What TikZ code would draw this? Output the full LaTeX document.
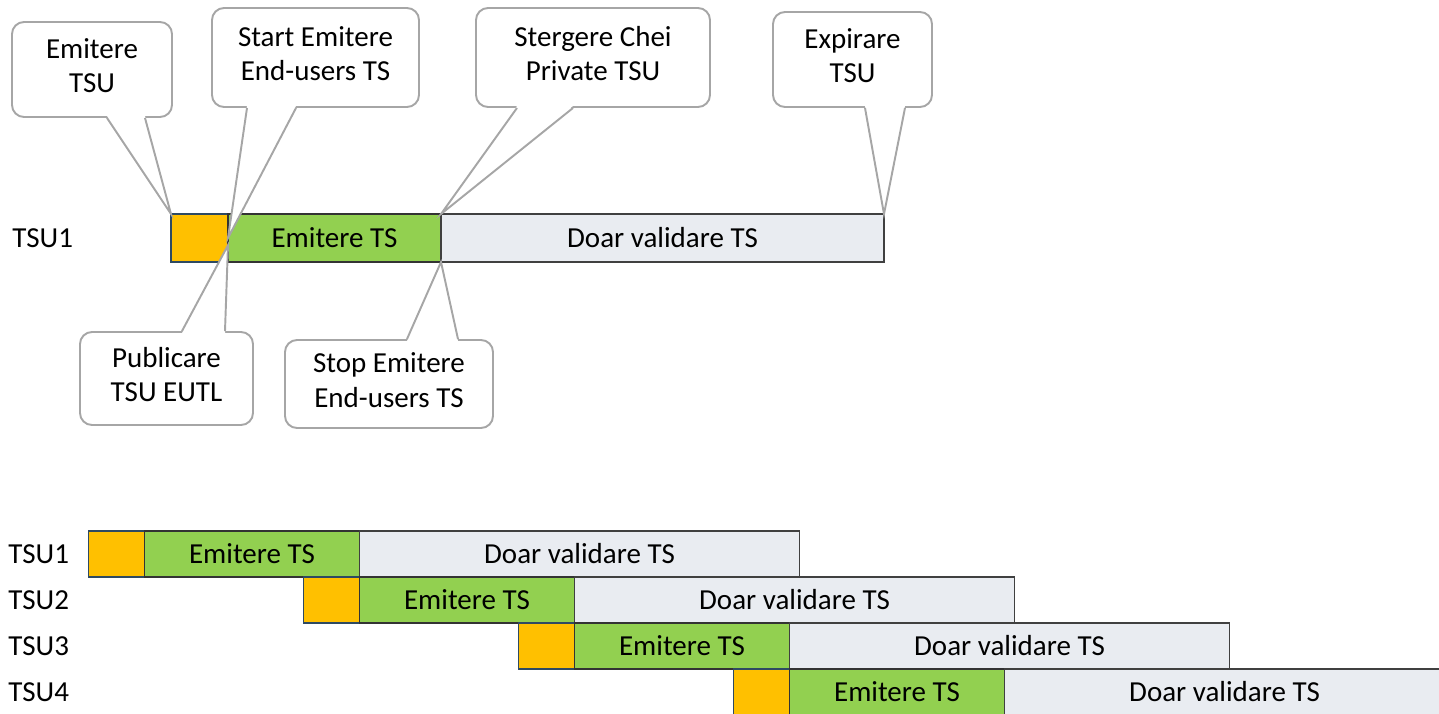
\documentclass[tikz,border=0pt]{standalone}
\usepackage{fontspec}
\setmainfont{Carlito}
\usepackage{tikz}
\usetikzlibrary{calc, positioning}
\definecolor{tsuorange}{HTML}{FFC000}
\definecolor{tsugreen}{HTML}{92D050}
\definecolor{tsugrey}{HTML}{E9ECF1}
\definecolor{tsuedge}{HTML}{2E4A62}
\definecolor{calloutgray}{HTML}{A6A6A6}
\tikzstyle{txt} = [font=\fontsize{16.5}{19.5}\selectfont]
\tikzstyle{callout} = [txt, rectangle, rounded corners=0.24cm, draw=calloutgray, line width=1.1pt, fill=white, align=center, inner sep=0pt, text depth=0.16cm]
\tikzstyle{tail} = [draw=calloutgray, line width=1.1pt, line join=miter]
\tikzstyle{orangebox} = [rectangle, draw=tsuedge, fill=tsuorange, line width=1.1pt, inner sep=0pt, outer sep=0pt, minimum width=1.12cm, minimum height=0.92cm]
\tikzstyle{greenbox} = [txt, rectangle, draw=black!80, fill=tsugreen, line width=0.8pt, inner sep=0pt, outer sep=0pt, minimum width=4.3cm, minimum height=0.92cm]
\tikzstyle{greybox} = [txt, rectangle, draw=black!75, fill=tsugrey, line width=0.8pt, inner sep=0pt, outer sep=0pt, minimum width=8.8cm, minimum height=0.92cm]
\tikzstyle{rowlabel} = [txt, anchor=west, inner sep=0pt]

\begin{document}
\begin{tikzpicture}

\useasboundingbox (0,0) rectangle (28.78,-14.26);

% Top timeline
\node (l1) [rowlabel] at (0.24,-4.76) {TSU1};
\node (o1) [orangebox, anchor=west, minimum width=1.14cm, minimum height=0.96cm] at (3.42,-4.76) {};
\node (g1) [greenbox, right=0pt of o1, minimum width=4.26cm, minimum height=0.96cm] {Emitere TS};
\node (v1) [greybox, right=0pt of g1, minimum width=8.86cm, minimum height=0.96cm] {Doar validare TS};

% Callouts above
\node (c1) [callout, minimum width=3.2cm, minimum height=1.9cm] at (1.84,-1.39) {Emitere\\TSU};
\node (c2) [callout, minimum width=4.14cm, minimum height=1.98cm] at (6.31,-1.15) {Start Emitere\\End-users TS};
\node (c3) [callout, minimum width=4.68cm, minimum height=1.98cm] at (11.86,-1.15) {Stergere Chei\\Private TSU};
\node (c4) [callout, minimum width=3.18cm, minimum height=1.9cm] at (17.05,-1.19) {Expirare\\TSU};

% Callouts below
\node (c5) [callout, minimum width=3.46cm, minimum height=1.86cm] at (3.33,-7.57) {Publicare\\TSU EUTL};
\node (c6) [callout, minimum width=4.16cm, minimum height=1.76cm] at (7.78,-7.68) {Stop Emitere\\End-users TS};

% Callout tails
\fill[white] ($(c1.south)+(0.3,0.04)$) -- (o1.north west) -- ($(c1.south)+(1.06,0.04)$) -- cycle;
\draw[tail] ($(c1.south)+(0.3,0)$) -- (o1.north west) -- ($(c1.south)+(1.06,0)$);

\fill[white] ($(c2.south)+(-1.37,0.04)$) -- (o1.east) -- ($(c2.south)+(-0.39,0.04)$) -- cycle;
\draw[tail] ($(c2.south)+(-1.37,0)$) -- (o1.east) -- ($(c2.south)+(-0.39,0)$);

\fill[white] ($(c3.south)+(-1.52,0.04)$) -- (g1.north east) -- ($(c3.south)+(-0.4,0.04)$) -- cycle;
\draw[tail] ($(c3.south)+(-1.52,0)$) -- (g1.north east) -- ($(c3.south)+(-0.4,0)$);

\fill[white] ($(c4.south)+(0.25,0.04)$) -- (v1.north east) -- ($(c4.south)+(1.05,0.04)$) -- cycle;
\draw[tail] ($(c4.south)+(0.25,0)$) -- (v1.north east) -- ($(c4.south)+(1.05,0)$);

\coordinate (p5) at ($(o1.east)!0.3!(o1.south east)$);
\fill[white] ($(c5.north)+(0.31,-0.04)$) -- (p5) -- ($(c5.north)+(1.17,-0.04)$) -- cycle;
\draw[tail] ($(c5.north)+(0.31,0)$) -- (p5) -- ($(c5.north)+(1.17,0)$);

\fill[white] ($(c6.north)+(0.36,-0.04)$) -- (g1.south east) -- ($(c6.north)+(1.38,-0.04)$) -- cycle;
\draw[tail] ($(c6.north)+(0.36,0)$) -- (g1.south east) -- ($(c6.north)+(1.38,0)$);

% Bottom timeline
\node (r1) [rowlabel] at (0.16,-11.08) {TSU1};
\node (r2) [rowlabel] at (0.16,-12.0) {TSU2};
\node (r3) [rowlabel] at (0.16,-12.92) {TSU3};
\node (r4) [rowlabel] at (0.16,-13.84) {TSU4};

\node (b1o) [orangebox, anchor=west] at (1.77,-11.08) {};
\node (b1g) [greenbox, right=0pt of b1o] {Emitere TS};
\node (b1v) [greybox, right=0pt of b1g] {Doar validare TS};

\node (b2o) [orangebox, anchor=north east] at (b1g.south east) {};
\node (b2g) [greenbox, right=0pt of b2o] {Emitere TS};
\node (b2v) [greybox, right=0pt of b2g] {Doar validare TS};

\node (b3o) [orangebox, anchor=north east] at (b2g.south east) {};
\node (b3g) [greenbox, right=0pt of b3o] {Emitere TS};
\node (b3v) [greybox, right=0pt of b3g] {Doar validare TS};

\node (b4o) [orangebox, anchor=north east] at (b3g.south east) {};
\node (b4g) [greenbox, right=0pt of b4o] {Emitere TS};
\node (b4v) [greybox, right=0pt of b4g] {Doar validare TS};

\end{tikzpicture}
\end{document}
